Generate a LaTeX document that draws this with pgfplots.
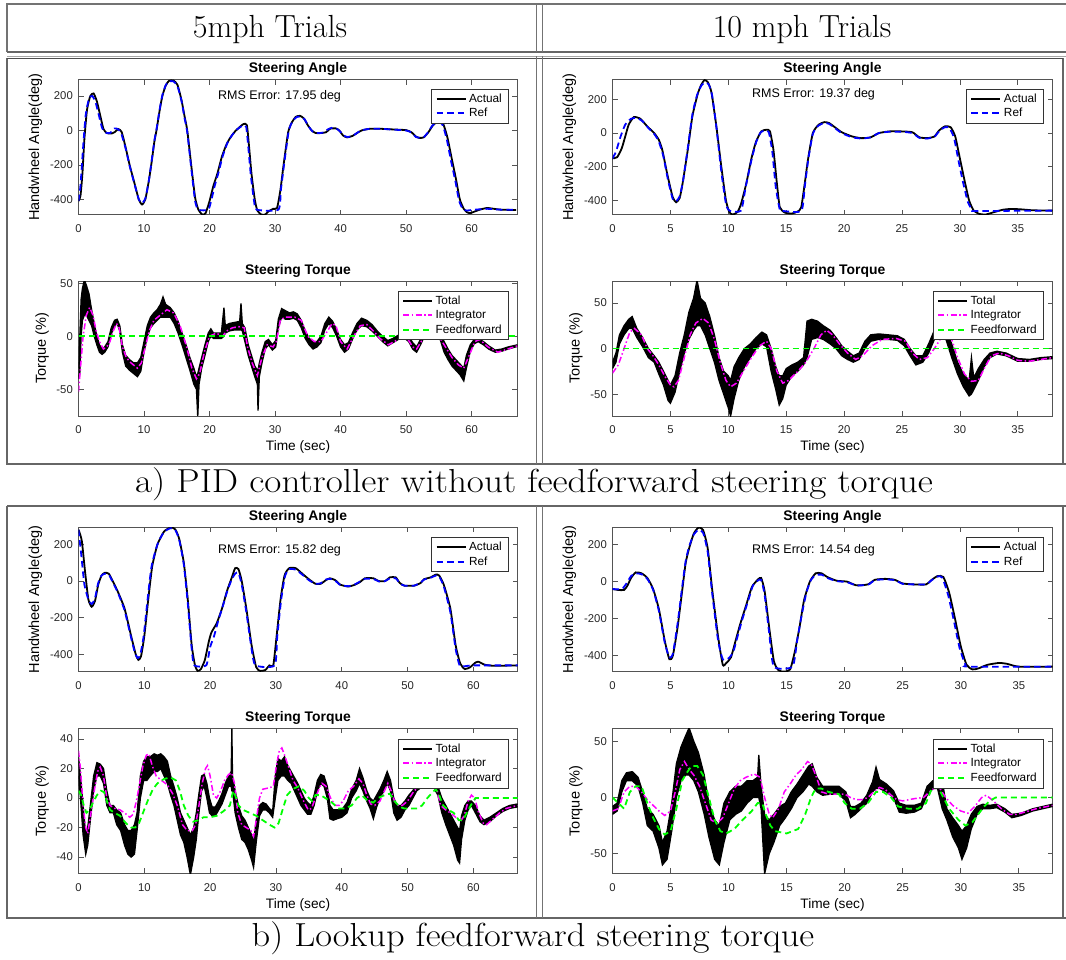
\documentclass[border=0pt]{standalone}
\usepackage{pgfplots}
\pgfplotsset{compat=1.18}
\usepackage{pgfplotstable}
\usepackage{graphicx}
\usepackage{fontspec}
\newfontfamily\arial{Liberation Sans}
\definecolor{mblue}{rgb}{0,0,1}
\definecolor{mmag}{rgb}{1,0,1}
\definecolor{mgreen}{rgb}{0,1,0}
\definecolor{axgray}{rgb}{0.33,0.33,0.33}
\newcommand\fTick{\arial\fontsize{11.3}{13}\selectfont}
\newcommand\fLeg{\arial\fontsize{11.8}{14}\selectfont}
\newcommand\fRMS{\arial\fontsize{12.5}{15}\selectfont}
\newcommand\fTitle{\arial\bfseries\fontsize{13.9}{16}\selectfont}
\newcommand\fLab{\arial\fontsize{13.7}{16}\selectfont}
\newcommand\fYLab{\arial\fontsize{14.5}{17}\selectfont}
\newcommand\fHead{\fontsize{32}{38}\selectfont}

% Total torque envelopes: t, lower, upper
\pgfplotstableread{
t lo hi
0 -40 -30
0.2 -35 0
0.4 0 35
0.6 15 45
0.9 20 53
1.2 20 48
1.6 15 40
2.0 10 25
2.4 0 12
2.8 -8 0
3.2 -15 -8
3.6 -17 -12
4.0 -15 -10
4.5 -10 -5
5.0 2 8
5.5 10 15
5.9 12 16
6.3 5 10
6.7 -15 -8
7.2 -28 -18
7.8 -32 -22
8.4 -35 -25
9.0 -38 -25
9.5 -33 -20
10.0 -15 -5
10.5 0 10
11.0 8 18
11.5 12 22
12.0 15 25
12.5 18 30
12.9 18 37
13.3 18 30
14.0 18 27
14.6 12 22
15.2 3 14
15.8 -8 3
16.4 -20 -8
17.0 -32 -20
17.6 -45 -30
18.0 -50 -38
18.2 -76 -35
18.4 -45 -30
18.8 -30 -20
19.3 -18 -8
19.8 -5 3
20.2 0 7
20.6 -2 3
21.2 -2 3
21.8 -2 3
22.2 0 27
22.4 3 10
23.0 5 12
23.8 6 13
24.6 6 14
24.8 6 31
25.0 5 12
25.4 -5 8
25.9 -18 -8
26.4 -28 -18
26.9 -38 -28
27.3 -45 -32
27.4 -70 -32
27.6 -38 -25
28.0 -25 -15
28.5 -12 -5
29.0 -8 -3
29.6 -13 -8
30.1 -10 -4
30.5 8 16
31.0 18 26
31.6 16 24
32.2 16 22
32.8 17 23
33.4 15 21
34.0 8 15
34.6 -2 5
35.2 -8 -2
35.8 -12 -5
36.4 -10 -5
37.0 -6 0
37.6 6 12
38.2 12 18
38.8 8 14
39.4 0 6
40.0 -10 -3
40.6 -15 -8
41.2 -12 -6
41.8 -3 3
42.5 6 12
43.2 10 17
44.0 9 15
44.8 5 11
45.6 0 5
46.4 -5 0
47.2 -9 -4
48.0 -6 -2
48.8 -3 1
49.6 -1 2
50.4 -5 0
51.0 -12 -6
51.6 -15 -10
52.2 -8 -3
52.8 0 4
53.6 1 5
54.4 0 4
55.2 -3 2
55.8 -15 -5
56.4 -22 -12
57.0 -28 -18
57.6 -32 -22
58.2 -36 -26
58.8 -42 -30
59.2 -30 -18
59.8 -14 -8
60.4 -7 -3
61.0 -5 -2
61.8 -8 -5
62.6 -12 -9
63.6 -15 -13
64.6 -14 -12
65.6 -12 -10
67.0 -9.5 -8
}\EaL

\pgfplotstableread{
t lo hi
0 -22 -15
0.3 -15 -5
0.6 5 15
1.0 15 25
1.4 22 32
1.7 22 35
2.1 12 22
2.6 2 12
3.1 -10 0
3.6 -15 -8
4.0 -28 -15
4.4 -40 -25
4.8 -57 -35
5.0 -60 -40
5.4 -48 -30
5.8 -25 -5
6.2 -5 15
6.6 10 40
7.0 20 55
7.3 25 75
7.6 25 55
8.0 15 50
8.4 0 35
8.8 -15 15
9.2 -35 -10
9.6 -50 -25
10.0 -65 -30
10.2 -74 -35
10.5 -55 -20
10.9 -35 -10
11.4 -20 0
11.9 -10 5
12.4 0 12
12.9 5 18
13.3 2 15
13.7 -25 0
14.1 -45 -20
14.4 -62 -30
14.7 -55 -30
15.0 -40 -22
15.5 -30 -18
16.0 -25 -15
16.5 -18 -10
16.8 -10 30
17.2 10 32
17.7 12 30
18.2 10 25
18.8 5 20
19.3 0 12
19.8 -8 3
20.3 -12 -3
20.8 -15 -8
21.3 -12 -5
21.8 0 8
22.3 8 15
23.0 10 16
23.8 10 15
24.6 9 14
25.2 3 10
25.7 -8 0
26.2 -18 -8
26.8 -15 -8
27.3 -5 5
27.8 10 20
28.3 15 25
28.8 10 20
29.3 -10 5
29.8 -28 -15
30.3 -42 -28
30.8 -52 -35
31.0 -50 -10
31.2 -45 -32
31.6 -35 -22
32.1 -20 -12
32.6 -10 -5
33.2 -6 -3
34.0 -8 -5
35.0 -14 -11
36.0 -14 -12
37.0 -12 -10
38.0 -11 -9
}\EaR

\pgfplotstableread{
t lo hi
0 15 28
0.3 0 15
0.7 -25 -5
1.1 -38 -25
1.4 -32 -20
1.8 -15 -5
2.3 5 15
2.8 15 24
3.3 15 23
3.8 10 20
4.3 -5 5
4.8 -10 -5
5.3 -10 -5
5.8 -18 -8
6.4 -22 -10
7.0 -32 -18
7.5 -38 -22
8.0 -40 -22
8.5 -38 -18
8.9 -22 -10
9.4 0 15
9.9 12 25
10.4 12 28
10.9 15 28
11.5 18 30
12.0 18 29
12.5 20 30
13.0 15 28
13.5 10 25
14.0 2 15
14.5 -5 8
15.0 -15 0
15.5 -25 -10
16.0 -30 -15
16.5 -40 -20
17.0 -52 -25
17.5 -40 -20
17.9 -28 -10
18.3 -10 3
18.7 5 15
19.1 8 16
19.5 0 10
19.9 -10 0
20.3 -12 -6
20.8 -12 -6
21.3 -8 -2
21.8 -4 3
22.3 2 10
22.8 8 15
23.2 8 18
23.3 5 47
23.4 5 15
23.8 -10 5
24.3 -20 -5
24.8 -28 -12
25.3 -30 -15
25.8 -35 -20
26.3 -42 -25
26.6 -47 -30
27.0 -30 -15
27.5 -12 -5
28.0 -8 -3
28.5 -8 -4
29.0 -10 -7
29.5 -13 -9
29.9 0 15
30.3 12 27
30.8 15 25
31.3 15 28
31.8 12 22
32.3 10 18
32.8 5 14
33.3 0 10
33.8 -5 5
34.3 -8 0
34.8 -11 -3
35.3 -11 -5
35.8 -5 2
36.3 5 12
36.8 10 16
37.3 8 15
37.8 0 8
38.2 -14 -5
38.7 -15 -8
39.3 -14 -8
40.0 -13 -8
40.8 -10 -3
41.5 0 6
42.2 5 12
42.7 10 20
43.2 5 14
43.8 -2 5
44.3 -7 0
44.8 -14 -2
45.3 -6 2
45.8 0 6
46.4 5 12
46.9 10 18
47.4 5 12
47.9 -10 0
48.4 -15 -5
49.0 -13 -5
49.6 -8 -2
50.2 -5 2
50.8 0 5
51.4 5 10
52.0 7 12
53.0 8 12
54.0 7 12
54.6 2 8
55.2 -10 0
55.8 -18 -5
56.4 -25 -10
57.0 -32 -15
57.6 -42 -20
57.9 -44 -22
58.2 -28 -12
58.7 -15 -5
59.2 -8 -2
59.7 -5 -2
60.3 -10 -5
61.0 -16 -12
61.6 -18 -15
62.5 -16 -13
63.5 -12 -10
64.5 -9 -7
65.5 -7 -5
66.7 -6 -4
}\EbL

\pgfplotstableread{
t lo hi
0 -15 -8
0.4 -12 -5
0.8 5 15
1.2 15 22
1.7 15 23
2.2 10 18
2.6 -5 5
3.0 -25 -10
3.5 -30 -15
4.0 -45 -25
4.3 -60 -40
4.7 -55 -30
5.1 -30 -5
5.5 0 30
5.9 15 45
6.3 20 55
6.6 20 62
7.0 15 50
7.4 5 40
7.9 -15 20
8.3 -35 -5
8.8 -55 -20
9.2 -60 -25
9.6 -40 -5
10.1 -20 5
10.6 -15 10
11.1 -12 10
11.6 -5 15
12.1 0 15
12.5 0 18
12.6 0 38
12.8 -10 10
13.1 -68 -15
13.5 -50 -20
13.9 -40 -15
14.4 -25 -8
14.9 -18 -5
15.4 -10 5
15.9 0 12
16.4 5 20
16.9 12 28
17.2 10 30
17.6 5 18
18.1 2 10
18.8 3 10
19.5 3 10
20.1 -3 5
20.5 -18 -8
20.9 -15 -8
21.4 -10 -5
21.9 -5 2
22.4 5 14
22.7 8 27
23.0 8 16
23.6 5 12
24.2 0 6
24.7 -13 -5
25.3 -14 -7
26.0 -13 -7
26.6 -10 -5
27.1 2 10
27.6 8 15
28.0 8 15
28.4 -10 15
28.8 -20 -10
29.3 -35 -18
29.8 -45 -25
30.1 -55 -30
30.5 -45 -25
30.9 -28 -15
31.4 -15 -8
31.9 -10 -6
32.5 -10 -7
33.1 -9 -6
33.8 -13 -10
34.4 -18 -15
35.2 -16 -14
36.2 -12 -10
37.9 -8 -6
}\EbR

% closed band outlines (upper edge forward, lower edge back)
\pgfplotstablesort[sort key=t, sort cmp=float <]{\PaL}{\EaL}
\pgfplotstablesort[sort key=t, sort cmp=float >]{\QaL}{\EaL}
\pgfplotstablecreatecol[copy=hi]{y}{\PaL}
\pgfplotstablecreatecol[copy=lo]{y}{\QaL}
\pgfplotstablevertcat{\PaL}{\QaL}
\pgfplotstablesort[sort key=t, sort cmp=float <]{\PaR}{\EaR}
\pgfplotstablesort[sort key=t, sort cmp=float >]{\QaR}{\EaR}
\pgfplotstablecreatecol[copy=hi]{y}{\PaR}
\pgfplotstablecreatecol[copy=lo]{y}{\QaR}
\pgfplotstablevertcat{\PaR}{\QaR}
\pgfplotstablesort[sort key=t, sort cmp=float <]{\PbL}{\EbL}
\pgfplotstablesort[sort key=t, sort cmp=float >]{\QbL}{\EbL}
\pgfplotstablecreatecol[copy=hi]{y}{\PbL}
\pgfplotstablecreatecol[copy=lo]{y}{\QbL}
\pgfplotstablevertcat{\PbL}{\QbL}
\pgfplotstablesort[sort key=t, sort cmp=float <]{\PbR}{\EbR}
\pgfplotstablesort[sort key=t, sort cmp=float >]{\QbR}{\EbR}
\pgfplotstablecreatecol[copy=hi]{y}{\PbR}
\pgfplotstablecreatecol[copy=lo]{y}{\QbR}
\pgfplotstablevertcat{\PbR}{\QbR}

\pgfplotsset{
  mat/.style={
    scale only axis, anchor=north west,
    axis line style={axgray, line width=0.8pt},
    every tick/.style={axgray, line width=0.7pt},
    tick align=inside, major tick length=5pt,
    /pgf/number format/assume math mode=true,
    every tick label/.append style={font=\fTick, text=black!85},
    xticklabel style={inner sep=0pt, anchor=center, yshift=-14pt},
    yticklabel style={inner sep=0pt, anchor=east, xshift=-5.5pt},
    title style={font=\fTitle, at={(0.5,1)}, anchor=base, yshift=1pt},
    every axis x label/.style={font=\fLab, anchor=center},
    every axis y label/.style={font=\fYLab, rotate=90, anchor=center},
    legend style={font=\fLeg, draw=black!80, fill=white,
      inner xsep=4pt, inner ysep=2.5pt, row sep=0pt, anchor=north east,
      nodes={inner xsep=2.5pt, inner ysep=1.5pt, text height=9pt, text depth=2.5pt}},
    legend cell align=left,
    legend image code/.code={\draw[##1, line width=2pt] (0pt,0pt) -- (29pt,0pt);},
  },
  angle/.style={mat, ytick={-400,-200,0,200}, title={Steering Angle},
    ylabel={Handwheel Angle(deg)},
    ylabel style={at={(axis description cs:-0.098,0.5)}},
    legend style={at={(0.9795,0.93)}}},
  torque/.style={mat, title={Steering Torque}, xlabel={Time (sec)},
    ylabel={Torque (\%)},
    ylabel style={at={(axis description cs:-0.083,0.5)}},
    legend style={at={(0.9795,0.926)}}},
  act/.style={black, line width=1.8pt, smooth, tension=0.35},
  ref/.style={mblue, line width=1.8pt, dash pattern=on 6.5pt off 4pt, smooth, tension=0.35},
  tot/.style={black, line width=1.3pt},
  band/.style={fill=black, draw=none, forget plot},
  integ/.style={mmag, line width=1.5pt, dash pattern=on 6pt off 2.5pt on 1.5pt off 2.5pt},
  ffw/.style={mgreen, line width=1.8pt, dash pattern=on 6pt off 4pt},
}

\begin{document}
\begin{tikzpicture}
\path[use as bounding box] (0pt,0pt) rectangle (1066pt,-959pt);

% ---------- table rules ----------
\draw[black!55, line width=1.3pt] (6pt,-4pt) -- (1066pt,-4pt);
\draw[black!55, line width=1.2pt] (7pt,-4pt) -- (7pt,-52pt);
\draw[black!60, line width=1.6pt] (7pt,-52pt) -- (1066pt,-52pt);
\draw[black!35, line width=1pt] (7pt,-56pt) -- (1066pt,-56pt);
\draw[black!55, line width=1.2pt] (536.5pt,-4pt) -- (536.5pt,-52pt);
\draw[black!55, line width=1.2pt] (542.5pt,-4pt) -- (542.5pt,-52pt);
% panel a
\draw[black!60, line width=1.2pt] (7pt,-58pt) -- (7pt,-464pt) -- (1066pt,-464pt);
\draw[black!60, line width=1.2pt] (1063pt,-58pt) -- (1063pt,-464pt);
\draw[black!70, line width=1pt] (7pt,-58pt) -- (1063pt,-58pt);
\draw[black!55, line width=1.2pt] (536.5pt,-56pt) -- (536.5pt,-464pt);
\draw[black!55, line width=1.2pt] (542.5pt,-56pt) -- (542.5pt,-464pt);
% panel b
\draw[black!60, line width=1.2pt] (7pt,-506pt) -- (1066pt,-506pt);
\draw[black!60, line width=1.2pt] (7pt,-506pt) -- (7pt,-918pt) -- (1066pt,-918pt);
\draw[black!60, line width=1.2pt] (1063pt,-506pt) -- (1063pt,-918pt);
\draw[black!55, line width=1.2pt] (536.5pt,-506pt) -- (536.5pt,-918pt);
\draw[black!55, line width=1.2pt] (542.5pt,-506pt) -- (542.5pt,-918pt);

% ---------- header and captions ----------
\node[anchor=base, font=\fHead] at (270pt,-37pt) {5mph Trials};
\node[anchor=base, font=\fHead] at (802pt,-37pt) {10 mph Trials};
\node[anchor=base, font=\fHead] at (534pt,-492pt) {\scalebox{1.16}[1.04]{a) PID controller without feedforward steering torque}};
\node[anchor=base, font=\fHead] at (533pt,-946pt) {\scalebox{1.14}[1.04]{b) Lookup feedforward steering torque}};

% ================= a) 5 mph angle =================
\begin{axis}[angle, at={(78.5pt,-79.5pt)}, width=439pt, height=135pt,
  xmin=0, xmax=67, ymin=-488, ymax=296, xtick={0,10,...,60}]
\addplot[act] coordinates {(0,-410) (0.3,-380) (0.6,-250) (0.9,-50) (1.3,120) (1.8,200) (2.3,215) (2.8,170) (3.3,90) (3.8,10) (4.3,-15) (5.0,-18) (5.5,-10) (6.1,8) (6.6,-10) (7.2,-100) (7.8,-200) (8.5,-300) (9.2,-400) (9.7,-430) (10.2,-400) (10.7,-300) (11.1,-200) (11.6,-60) (11.9,0) (12.4,120) (12.8,200) (13.3,260) (13.8,288) (14.5,290) (15.1,265) (15.7,180) (16.2,80) (16.6,0) (17.2,-200) (17.8,-390) (18.3,-460) (18.9,-488) (19.4,-480) (20.0,-410) (20.6,-320) (21.2,-250) (21.9,-150) (22.6,-80) (23.2,-40) (23.9,-5) (24.6,20) (25.2,38) (25.7,30) (26.0,-80) (26.4,-250) (26.9,-400) (27.3,-465) (27.9,-488) (28.5,-488) (29.0,-470) (29.7,-455) (30.3,-450) (30.8,-350) (31.3,-200) (32.0,-10) (32.6,50) (33.2,80) (33.8,85) (34.4,70) (35.0,30) (35.6,0) (36.2,-15) (37.0,-15) (37.8,-10) (38.4,10) (39.3,12) (39.8,0) (40.4,-30) (41.0,-40) (41.8,-32) (42.5,-15) (43.2,0) (44.5,10) (46,10) (48,6) (50,2) (50.8,-10) (51.5,-35) (52.0,-43) (52.7,-40) (53.4,-10) (54.1,30) (54.7,48) (55.3,48) (55.7,35) (56.3,-40) (57.0,-170) (57.6,-280) (58.2,-400) (58.8,-455) (59.3,-475) (59.8,-480) (60.5,-470) (61.4,-458) (62.4,-450) (63.4,-455) (64.5,-460) (66.8,-462)};
\addlegendentry{Actual}
\addplot[ref] coordinates {(0,-410) (0.3,-320) (0.7,-100) (1.1,90) (1.6,185) (2.1,200) (2.6,165) (3.1,90) (3.6,15) (4.1,-12) (4.8,-15) (5.5,12) (6.0,8) (6.5,-15) (7.2,-105) (7.8,-205) (8.5,-305) (9.2,-400) (9.7,-422) (10.2,-395) (10.7,-300) (11.1,-195) (11.6,-55) (11.9,5) (12.4,125) (12.8,205) (13.3,262) (13.8,285) (14.5,285) (15.1,258) (15.7,175) (16.2,70) (16.6,-10) (17.2,-215) (17.8,-410) (18.3,-460) (19.8,-460) (20.3,-400) (20.8,-320) (21.4,-240) (22.0,-150) (22.7,-75) (23.3,-35) (24.0,0) (24.7,20) (25.2,30) (25.6,20) (25.9,-90) (26.3,-260) (26.8,-410) (27.2,-460) (30.5,-460) (30.9,-340) (31.4,-190) (32.1,0) (32.7,55) (33.3,78) (33.9,80) (34.5,65) (35.1,25) (35.7,-5) (36.3,-15) (37.4,-12) (38.0,5) (38.6,15) (39.4,10) (39.9,-5) (40.5,-30) (41.1,-38) (41.9,-30) (42.6,-12) (43.3,2) (44.5,10) (46,10) (48,5) (50,0) (50.8,-12) (51.5,-38) (52.0,-42) (52.7,-38) (53.4,-8) (54.0,28) (54.6,45) (55.2,45) (55.6,30) (56.2,-50) (56.9,-185) (57.5,-290) (58.1,-410) (58.7,-458) (59.2,-465) (60.5,-460) (62.4,-455) (64.5,-460) (66.8,-460)};
\addlegendentry{Ref}
\node[font=\fRMS] at (axis description cs:0.458,0.878) {RMS Error: 17.95 deg};
\end{axis}

% ================= a) 10 mph angle =================
\begin{axis}[angle, at={(612.5pt,-79.5pt)}, width=440pt, height=135pt,
  xmin=0, xmax=38, ymin=-483, ymax=318, xtick={0,5,...,35}]
\addplot[act] coordinates {(0,-150) (0.4,-143) (0.8,-90) (1.1,-20) (1.4,50) (1.85,95) (2.4,85) (3.0,40) (3.6,0) (4.0,-40) (4.3,-100) (4.75,-250) (5.2,-380) (5.5,-410) (5.8,-385) (6.05,-300) (6.5,-100) (6.9,100) (7.35,230) (7.65,285) (7.95,315) (8.25,300) (8.55,240) (8.95,50) (9.4,-200) (9.8,-400) (10.1,-470) (10.4,-483) (10.8,-468) (11.1,-420) (11.55,-300) (12.0,-150) (12.4,-50) (12.85,10) (13.3,20) (13.6,10) (13.9,-100) (14.2,-300) (14.45,-440) (14.9,-472) (15.5,-477) (16.0,-465) (16.3,-440) (16.6,-300) (16.9,-150) (17.3,0) (17.8,50) (18.3,65) (18.7,60) (19.2,35) (19.8,5) (20.7,-20) (21.5,-30) (22.3,-25) (23.0,0) (23.9,10) (25.0,10) (25.9,5) (26.5,-25) (27.2,-30) (27.8,-20) (28.2,15) (28.7,40) (29.2,35) (29.6,-20) (30.0,-150) (30.4,-280) (30.8,-400) (31.2,-460) (31.7,-480) (32.25,-483) (32.8,-472) (33.7,-455) (34.4,-450) (35.2,-452) (36.3,-458) (38,-460)};
\addlegendentry{Actual}
\addplot[ref] coordinates {(0,-150) (0.3,-110) (0.7,-20) (1.1,50) (1.6,85) (2.1,90) (2.6,70) (3.1,30) (3.6,-5) (4.0,-50) (4.4,-140) (4.8,-280) (5.2,-390) (5.5,-405) (5.8,-375) (6.1,-280) (6.5,-90) (6.9,110) (7.3,225) (7.7,285) (8.0,300) (8.3,290) (8.6,225) (9.0,20) (9.4,-230) (9.8,-420) (10.1,-460) (11.1,-460) (11.5,-320) (12.0,-160) (12.4,-55) (12.8,5) (13.2,15) (13.5,5) (13.8,-110) (14.1,-320) (14.45,-455) (14.7,-462) (16.3,-462) (16.6,-320) (16.9,-160) (17.3,-5) (17.8,45) (18.3,60) (18.7,55) (19.2,30) (19.8,0) (20.7,-25) (21.5,-32) (22.3,-25) (23.0,0) (23.9,8) (25.0,8) (25.9,0) (26.5,-28) (27.2,-32) (27.8,-22) (28.2,10) (28.7,35) (29.1,30) (29.5,-30) (29.9,-170) (30.3,-300) (30.7,-410) (31.1,-458) (31.5,-462) (38,-460)};
\addlegendentry{Ref}
\node[font=\fRMS] at (axis description cs:0.457,0.888) {RMS Error: 19.37 deg};
\end{axis}

% ================= a) 5 mph torque =================
\begin{axis}[torque, at={(78.5pt,-281pt)}, width=439pt, height=135pt,
  xmin=0, xmax=67, ymin=-75, ymax=52, xtick={0,10,...,60}, ytick={-50,0,50},
  xlabel style={at={(axis description cs:0.5,-0.23)}}]
\addplot[tot] table[x=t,y=hi]{\EaL};
\addlegendentry{Total}
\addplot[tot, forget plot] table[x=t,y=lo]{\EaL};
\addplot[band] table[x=t,y=y]{\PaL};
\addplot[integ] coordinates {(0,-52) (0.3,-30) (0.7,0) (1.2,20) (1.7,27) (2.2,20) (2.7,5) (3.2,-5) (3.8,-12) (4.3,-10) (4.8,-5) (5.3,5) (5.8,12) (6.2,8) (6.7,-10) (7.3,-20) (8,-25) (9,-30) (9.6,-25) (10.2,-10) (10.8,5) (11.5,15) (12.5,20) (13.5,25) (14.5,22) (15.5,10) (16.5,-10) (17.3,-30) (18,-40) (18.5,-35) (19.2,-15) (20,0) (21,3) (22,0) (22.6,5) (23.5,8) (24.5,9) (25.3,8) (25.8,-10) (26.5,-25) (27.3,-37) (28,-20) (28.8,-8) (29.7,-10) (30.2,-5) (30.8,15) (31.5,18) (33,18) (34,15) (35,0) (36,-5) (37,-5) (38,5) (38.7,12) (39.3,10) (40,-5) (41,-12) (42,0) (43,10) (44,11) (45,5) (46,-2) (47.3,-8) (48.2,-5) (49,-2) (50,0) (51,-10) (51.6,-12) (52.3,-5) (53,0) (54,2) (55,0) (56,-10) (57,-20) (58,-27) (58.8,-30) (59.5,-20) (60.5,-5) (61.2,-3) (62.5,-10) (64,-15) (65.5,-12) (67,-9)};
\addlegendentry{Integrator}
\addplot[ffw] coordinates {(0,0) (67,0)};
\addlegendentry{Feedforward}
\end{axis}

% ================= a) 10 mph torque =================
\begin{axis}[torque, at={(612.5pt,-281pt)}, width=440pt, height=135pt,
  xmin=0, xmax=38, ymin=-74, ymax=74, xtick={0,5,...,35}, ytick={-50,0,50},
  xlabel style={at={(axis description cs:0.5,-0.23)}}]
\addplot[tot] table[x=t,y=hi]{\EaR};
\addlegendentry{Total}
\addplot[tot, forget plot] table[x=t,y=lo]{\EaR};
\addplot[band] table[x=t,y=y]{\PaR};
\addplot[integ] coordinates {(0,-27) (0.5,-18) (1,0) (1.5,18) (1.9,22) (2.5,15) (3,0) (3.5,-8) (4,-18) (4.5,-30) (5,-40) (5.3,-42) (5.7,-35) (6.2,-10) (6.7,15) (7.2,28) (7.8,33) (8.3,28) (8.8,10) (9.3,-15) (9.8,-35) (10.2,-42) (10.7,-38) (11.3,-25) (12,-10) (12.7,3) (13.3,8) (13.7,0) (14.2,-25) (14.7,-38) (15.2,-35) (16,-25) (16.7,-15) (17.4,0) (18,15) (18.5,20) (19,15) (19.6,5) (20.3,-5) (21,-12) (21.6,-8) (22.4,3) (23.3,10) (24.5,11) (25.3,8) (25.9,-5) (26.5,-12) (27.2,-10) (27.8,0) (28.4,12) (28.9,15) (29.3,10) (29.8,-10) (30.4,-28) (31,-36) (31.6,-35) (32.1,-22) (32.7,-8) (33.4,-5) (34.2,-8) (35,-13) (36,-14) (37,-12) (38,-10)};
\addlegendentry{Integrator}
\addplot[ffw] coordinates {(0,0) (38,0)};
\addlegendentry{Feedforward}
\end{axis}

% ================= b) 5 mph angle =================
\begin{axis}[angle, at={(78.5pt,-527.3pt)}, width=439pt, height=144.5pt,
  xmin=0, xmax=66.7, ymin=-495, ymax=293, xtick={0,10,...,60}]
\addplot[act] coordinates {(0,280) (0.5,220) (1.0,50) (1.5,-100) (2.0,-140) (2.5,-110) (3.0,-20) (3.5,30) (4.0,45) (4.6,40) (5.2,0) (6.0,-60) (7.0,-150) (8.0,-300) (8.7,-400) (9.1,-430) (9.5,-410) (10.0,-300) (10.6,-100) (11.2,80) (12.0,200) (13.0,270) (14.0,292) (14.7,282) (15.3,230) (16.0,100) (16.6,-100) (17.2,-350) (17.7,-460) (18.1,-490) (18.6,-480) (19.2,-430) (19.8,-330) (20.2,-280) (21.0,-230) (21.8,-150) (22.6,-50) (23.3,20) (23.8,70) (24.3,65) (24.8,0) (25.5,-150) (26.3,-350) (27.0,-470) (27.6,-490) (28.4,-485) (29.0,-460) (29.6,-458) (30.1,-300) (30.7,-100) (31.3,30) (32.0,70) (33.0,70) (34.0,40) (35.0,10) (36.0,-15) (36.8,-15) (37.6,5) (38.2,15) (39.0,5) (39.8,-20) (41.0,-30) (42.0,-20) (42.8,-5) (43.5,15) (44.8,15) (45.6,0) (46.6,0) (47.3,20) (48.2,20) (48.8,-10) (49.5,-25) (51.0,-25) (52.0,-10) (52.5,10) (53.5,20) (54.3,35) (54.8,30) (55.5,-20) (56.5,-150) (57.3,-350) (58.0,-450) (58.7,-480) (59.5,-470) (60.3,-445) (60.8,-440) (61.6,-455) (63.0,-462) (66.7,-460)};
\addlegendentry{Actual}
\addplot[ref] coordinates {(0,280) (0.4,150) (0.9,-20) (1.5,-100) (2.0,-125) (2.5,-95) (3.0,-10) (3.5,30) (4.0,40) (4.6,35) (5.2,-5) (6.0,-65) (7.0,-160) (8.0,-310) (8.6,-395) (9.0,-420) (9.4,-400) (9.9,-300) (10.5,-100) (11.1,80) (12.0,200) (13.0,268) (14.0,288) (14.7,278) (15.3,225) (16.0,90) (16.6,-120) (17.2,-370) (17.6,-460) (19.4,-460) (20.0,-360) (20.6,-300) (21.2,-220) (21.9,-140) (22.6,-55) (23.3,10) (23.8,40) (24.3,45) (24.8,-20) (25.5,-170) (26.3,-370) (26.9,-460) (29.8,-460) (30.2,-300) (30.8,-100) (31.4,30) (32.0,65) (33.0,62) (34.0,35) (35.0,5) (36.0,-15) (36.8,-12) (37.6,8) (38.2,12) (39.0,2) (39.8,-22) (41.0,-28) (42.0,-18) (42.8,-2) (43.5,12) (44.8,12) (45.6,-2) (46.6,0) (47.3,15) (48.2,15) (48.8,-12) (49.5,-25) (51.0,-25) (52.0,-8) (52.5,8) (53.5,18) (54.3,30) (54.8,25) (55.5,-30) (56.5,-170) (57.3,-370) (57.9,-460) (58.6,-465) (60.0,-460) (66.7,-460)};
\addlegendentry{Ref}
\node[font=\fRMS] at (axis description cs:0.458,0.84) {RMS Error: 15.82 deg};
\end{axis}

% ================= b) 10 mph angle =================
\begin{axis}[angle, at={(612.5pt,-527.3pt)}, width=440pt, height=144.5pt,
  xmin=0, xmax=37.9, ymin=-488, ymax=294, xtick={0,5,...,35}]
\addplot[act] coordinates {(0,-40) (0.5,-45) (1.0,-45) (1.3,-20) (1.6,20) (2.0,50) (2.5,45) (3.0,20) (3.5,-40) (4.0,-150) (4.5,-320) (4.9,-420) (5.2,-400) (5.6,-250) (6.0,-50) (6.3,100) (6.6,180) (7.0,260) (7.4,292) (7.8,280) (8.2,180) (8.6,-50) (9.1,-300) (9.5,-450) (9.8,-440) (10.2,-410) (10.6,-320) (11.0,-230) (11.5,-130) (12.0,-30) (12.5,10) (12.8,20) (13.1,-50) (13.5,-250) (13.9,-430) (14.3,-480) (14.8,-487) (15.3,-475) (15.7,-380) (16.1,-250) (16.5,-100) (17.0,0) (17.5,45) (18.0,45) (18.5,25) (19.3,5) (20.2,0) (21.0,-20) (22.0,-15) (22.6,10) (23.5,15) (24.3,10) (25.0,-10) (26.0,-15) (27.0,-15) (27.5,10) (28.0,30) (28.5,25) (29.0,-60) (29.5,-200) (30.0,-350) (30.5,-450) (31.0,-475) (31.5,-470) (32.3,-450) (33.3,-440) (34.0,-445) (35.0,-460) (37.9,-460)};
\addlegendentry{Actual}
\addplot[ref] coordinates {(0,-40) (0.8,-40) (1.2,-10) (1.6,30) (2.0,45) (2.5,40) (3.0,15) (3.5,-45) (4.0,-160) (4.5,-330) (4.9,-410) (5.2,-390) (5.6,-230) (6.0,-30) (6.3,110) (6.6,190) (7.0,255) (7.4,280) (7.8,265) (8.2,160) (8.6,-70) (9.1,-320) (9.5,-420) (10.0,-415) (10.4,-380) (10.8,-290) (11.2,-200) (11.7,-100) (12.1,-20) (12.5,5) (12.8,10) (13.1,-70) (13.5,-280) (13.9,-460) (15.5,-460) (15.9,-320) (16.3,-180) (16.7,-60) (17.1,10) (17.5,35) (18.0,38) (18.5,20) (19.3,3) (20.2,-3) (21.0,-20) (22.0,-17) (22.6,8) (23.5,12) (24.3,8) (25.0,-12) (26.0,-15) (27.0,-15) (27.5,8) (28.0,28) (28.4,22) (28.9,-70) (29.4,-210) (29.9,-360) (30.4,-450) (30.7,-460) (37.9,-460)};
\addlegendentry{Ref}
\node[font=\fRMS] at (axis description cs:0.457,0.84) {RMS Error: 14.54 deg};
\end{axis}

% ================= b) 5 mph torque =================
\begin{axis}[torque, at={(78.5pt,-728.3pt)}, width=439pt, height=145pt,
  xmin=0, xmax=66.7, ymin=-51, ymax=47.3, xtick={0,10,...,60}, ytick={-40,-20,0,20,40},
  xlabel style={at={(axis description cs:0.5,-0.22)}}]
\addplot[tot] table[x=t,y=hi]{\EbL};
\addlegendentry{Total}
\addplot[tot, forget plot] table[x=t,y=lo]{\EbL};
\addplot[band] table[x=t,y=y]{\PbL};
\addplot[integ] coordinates {(0,32) (0.3,20) (0.7,-5) (1.1,-20) (1.4,-24) (1.9,-10) (2.4,5) (2.9,18) (3.3,21) (3.8,15) (4.3,0) (4.8,-5) (5.5,-7) (6.3,-8) (7,-10) (7.8,-13) (8.3,-11) (8.8,-2) (9.3,10) (9.8,22) (10.3,29) (10.7,30) (11.2,22) (11.8,15) (12.6,12) (13.5,9) (14.3,3) (15,-5) (15.8,-18) (16.5,-22) (17.3,-22) (17.8,-18) (18.3,-5) (18.8,10) (19.3,20) (19.6,22) (20,15) (20.5,2) (21,0) (21.6,5) (22.2,12) (22.8,16) (23.3,17) (23.7,10) (24.2,-10) (24.8,-18) (25.5,-20) (26.2,-22) (26.6,-26) (27,-15) (27.5,0) (28,6) (29,7) (29.6,8) (30,20) (30.5,32) (30.9,34) (31.4,28) (32,20) (32.6,12) (33.3,7) (34.2,-2) (34.9,-8) (35.4,-7) (36,0) (36.6,7) (37,10) (37.6,8) (38.3,0) (39,-5) (39.6,-5) (40.2,-2) (41,5) (41.8,8) (42.6,13) (43.2,10) (43.8,2) (44.4,-4) (45,-5) (45.8,-2) (46.5,5) (47,10) (47.5,5) (48,-2) (48.6,-5) (49.2,-5) (50,-2) (51,5) (52,8) (53,8) (54,7) (54.5,5) (55,-5) (55.8,-8) (56.5,-10) (57.3,-13) (58,-16) (58.6,-12) (59.2,-2) (59.7,2) (60.2,0) (60.8,-10) (61.5,-17) (62,-18) (63,-14) (64,-10) (65,-7) (66.7,-5)};
\addlegendentry{Integrator}
\addplot[ffw] coordinates {(0,5) (0.4,2) (0.8,-5) (1.2,-10) (1.7,-8) (2.2,-3) (2.8,2) (3.4,5) (3.9,4) (4.3,-2) (4.8,-8) (5.5,-10) (6.3,-12) (7.2,-17) (8,-20) (8.6,-20) (9.2,-17) (9.8,-10) (10.5,-2) (11.3,6) (12,10) (13,13) (14,14) (14.8,12) (15.4,5) (16,-5) (16.7,-12) (17.4,-16) (18.2,-15) (19,-13) (20,-13) (21,-12) (22,-9) (23,-5) (23.5,5) (23.8,2) (24.3,-5) (25,-8) (26,-10) (27,-12) (28,-15) (29,-18) (29.8,-20) (30.4,-17) (31,-8) (31.7,2) (32.5,6) (33.5,8) (34.3,5) (35,0) (35.5,-2) (36,2) (36.8,2) (37.5,0) (38.5,-3) (39.5,-7) (40.5,-7) (41.5,-5) (42.3,0) (43,2) (44,-2) (44.8,-3) (45.5,0) (46.5,2) (47.3,3) (48,-2) (48.8,-6) (49.5,-7) (50.5,-7) (51.5,-7) (52.2,-5) (53,0) (53.8,4) (54.3,6) (54.8,2) (55.4,-5) (56.2,-8) (57,-10) (57.8,-15) (58.4,-15) (59,-10) (59.6,-5) (60,-2) (60.3,0) (66.7,0)};
\addlegendentry{Feedforward}
\end{axis}

% ================= b) 10 mph torque =================
\begin{axis}[torque, at={(612.5pt,-728.3pt)}, width=440pt, height=145pt,
  xmin=0, xmax=37.9, ymin=-67.5, ymax=61.6, xtick={0,5,...,35}, ytick={-50,0,50},
  xlabel style={at={(axis description cs:0.5,-0.22)}}]
\addplot[tot] table[x=t,y=hi]{\EbR};
\addlegendentry{Total}
\addplot[tot, forget plot] table[x=t,y=lo]{\EbR};
\addplot[band] table[x=t,y=y]{\PbR};
\addplot[integ] coordinates {(0,-12) (0.5,-10) (1,5) (1.5,10) (2,10) (2.5,5) (3,-2) (3.5,-7) (4,-12) (4.5,-16) (5,-12) (5.4,5) (5.8,25) (6.2,32) (6.6,25) (7,20) (7.5,10) (8,-5) (8.5,-20) (9,-23) (9.5,-18) (10,-5) (10.5,8) (11,15) (11.5,18) (12.2,21) (12.7,18) (13.1,0) (13.5,-15) (13.8,-18) (14.3,-10) (14.8,5) (15.3,12) (15.8,20) (16.3,25) (16.8,32) (17.1,30) (17.5,20) (18,5) (18.6,3) (19.3,3) (20,3) (20.5,0) (21,-2) (21.5,-2) (22,0) (22.5,5) (23,9) (23.5,7) (24,2) (24.5,-2) (25,-3) (26,-1) (26.8,0) (27.3,5) (27.8,9) (28.2,8) (28.7,0) (29.3,-7) (30,-12) (30.6,-14) (31.2,-8) (31.8,0) (32.2,2) (32.8,-3) (33.5,-10) (34.2,-15) (34.8,-15) (35.5,-13) (36.5,-10) (37.9,-7)};
\addlegendentry{Integrator}
\addplot[ffw] coordinates {(0,0) (0.5,-5) (1,-10) (1.5,5) (2,10) (2.5,10) (3,-5) (3.5,-18) (4,-28) (4.5,-33) (5,-30) (5.5,-10) (6,15) (6.4,22) (6.8,28) (7.3,28) (7.8,20) (8.3,0) (8.8,-20) (9.3,-30) (9.8,-32) (10.5,-28) (11.2,-20) (12,-12) (12.5,-5) (12.9,-5) (13.2,-15) (13.6,-25) (14,-30) (15,-32) (15.5,-30) (16,-28) (16.6,-15) (17.1,0) (17.5,8) (18,8) (18.6,5) (19.5,3) (20,-5) (20.6,-10) (21.3,-10) (22,-5) (22.7,5) (23.3,5) (24,0) (24.6,-8) (25.5,-10) (26.3,-10) (27,-5) (27.5,8) (28,10) (28.4,2) (29,-10) (29.8,-20) (30.4,-25) (31,-22) (31.5,-15) (32,-8) (32.5,-3) (33,0) (37.9,0)};
\addlegendentry{Feedforward}
\end{axis}
\end{tikzpicture}
\end{document}
